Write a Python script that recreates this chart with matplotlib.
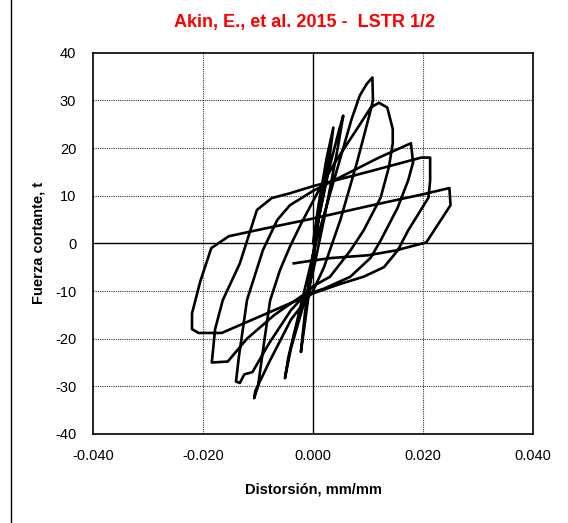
import numpy as np
import matplotlib
matplotlib.use("Agg")
import matplotlib.pyplot as plt
from matplotlib.lines import Line2D

plt.rcParams['font.family'] = ['Liberation Sans', 'DejaVu Sans']
plt.rcParams['axes.unicode_minus'] = False

# digitised hysteresis path (distortion mm/mm, shear t)
distorsion = [
    0.0, 0.001, 0.0025, 0.0037,
    0.003, 0.001, -0.0005, -0.0015, -0.0022,
    -0.0015, 0.0, 0.001, 0.003, 0.0048, 0.0055,
    0.0045, 0.002, 0.0, -0.002, -0.004, -0.0051,
    -0.0045, -0.002, 0.0005, 0.003, 0.005, 0.007, 0.0085, 0.0098, 0.0108,
    0.0109, 0.0105, 0.008, 0.005, 0.002, 0.0, -0.004, -0.008, -0.0105, -0.0107,
    -0.0100, -0.0088, -0.0078, -0.006, -0.0042, -0.002, 0.001, 0.004, 0.008, 0.0105, 0.0120,
    0.0135, 0.0145, 0.0145, 0.0138, 0.0123, 0.0092, 0.0068, 0.0031, 0.0,
    -0.004, -0.008, -0.011, -0.0125, -0.0133, -0.0140,
    -0.0135, -0.0120, -0.0091, -0.0065, -0.0042, 0.0, 0.006, 0.012, 0.0178,
    0.0182, 0.0173, 0.0154, 0.0123, 0.0105, 0.0068, 0.002, -0.002, -0.007,
    -0.012, -0.0155, -0.0184,
    -0.0178, -0.0164, -0.0133, -0.0102, -0.0075, -0.0042, 0.0, 0.010, 0.0197, 0.0213,
    0.0213, 0.021, 0.0173, 0.0154, 0.0129, 0.0092, 0.005, 0.0, -0.006, -0.012,
    -0.0166, -0.0208, -0.0220, -0.0220,
    -0.0205, -0.0185, -0.0153, -0.008, 0.0, 0.010, 0.020, 0.0248,
    0.0250, 0.0206, 0.015, 0.010, 0.0031, 0.0, -0.0035,
]
cortante = [
    0.0, 8, 18, 24.3,
    18, 5, -6, -15, -22.8,
    -17, -4, 5, 16, 24, 26.8,
    20, 5, -6, -14, -22, -28.3,
    -24, -12, 0, 10, 18, 26, 31, 33.5, 34.8,
    30, 28, 17, 5, -5, -10, -16, -25, -31, -32.5,
    -30, -20, -12, -5.6, -0.7, 4.5, 11, 17, 24, 28.5, 29.5,
    28.5, 24, 21, 16, 9.6, 2.7, -1.5, -7, -9,
    -14, -21, -27, -27.5, -29.3, -29,
    -24, -11.9, -1.4, 4.9, 8, 11, 14.5, 18, 21,
    17, 13.2, 7.5, 0.6, -3, -7, -9.5, -11, -15,
    -20, -24.8, -25,
    -18, -11.9, -4.2, 7, 9.5, 10.5, 12, 15, 18, 18,
    13.2, 9.6, 2.7, -1.5, -5, -7, -8.5, -10.5, -13.5, -16.5,
    -18.8, -18.8, -18.0, -14.7,
    -8, -1, 1.5, 3.3, 5.2, 7.8, 10.3, 11.6,
    8, 0.2, -1.5, -2.5, -3.1, -3.6, -4.2,
]

xticks = [-0.04, -0.02, 0.0, 0.02, 0.04]
yticks = [-40, -30, -20, -10, 0, 10, 20, 30, 40]

fig = plt.figure(figsize=(5.68, 5.23), dpi=100)
ax = fig.add_axes([93 / 568, 1 - 434 / 523, 440 / 568, (434 - 52.7) / 523])

ax.plot(distorsion, cortante, color='black', lw=1.9, solid_joinstyle='round', zorder=3)

ax.set_xlim(-0.04, 0.04)
ax.set_ylim(-40, 40)
ax.set_xticks(xticks)
ax.set_yticks(yticks)
ax.set_xticklabels([f"{v:.3f}" for v in xticks])
ax.tick_params(axis='x', length=0, labelsize=10.5, pad=11)
ax.tick_params(axis='y', length=0, labelsize=10.5, pad=12)

for v in xticks[1:-1]:
    if v == 0:
        ax.axvline(v, color='black', lw=1.0, zorder=1)
    else:
        ax.axvline(v, color='#333333', lw=0.8, ls=(0, (1, 1)), zorder=1)
for v in yticks[1:-1]:
    if v == 0:
        ax.axhline(v, color='black', lw=1.0, zorder=1)
    else:
        ax.axhline(v, color='#333333', lw=0.8, ls=(0, (1, 1)), zorder=1)

for s in ax.spines.values():
    s.set_linewidth(1.2)

ax.set_xlabel("Distorsión, mm/mm", fontsize=10.5, fontweight='bold', labelpad=14)
ax.set_ylabel("Fuerza cortante, t", fontsize=10.5, fontweight='bold', labelpad=7)

fig.text(304 / 568, 1 - 23 / 523, "Akin, E., et al. 2015 -  LSTR 1/2", color='red',
         fontsize=13, fontweight='bold', ha='center', va='center')

fig.add_artist(Line2D([11 / 568, 11 / 568], [0, 1], color='black', lw=1.0))

fig.savefig("out.png", dpi=100)
